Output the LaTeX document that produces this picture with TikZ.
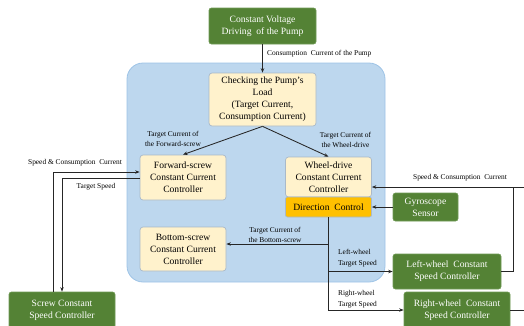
\documentclass[tikz,border=0pt]{standalone}
\usepackage{fontspec}
\setmainfont{Liberation Serif}
\usetikzlibrary{arrows.meta}

\definecolor{grnfill}{HTML}{548235}
\definecolor{grnedge}{HTML}{6F9A55}
\definecolor{creamfill}{HTML}{FFF2CC}
\definecolor{creamedge}{HTML}{A9B9C9}
\definecolor{amberfill}{HTML}{FFC000}
\definecolor{regionfill}{HTML}{BDD7EE}
\definecolor{regionedge}{HTML}{9DC3E6}
\definecolor{wire}{HTML}{262626}

\newcommand{\boxfont}{\fontsize{9.6}{12}\selectfont}
\newcommand{\tagfont}{\fontsize{7.4}{10.5}\selectfont}

\tikzset{
  greenbox/.style={draw=grnedge, fill=grnfill, text=white, rounded corners=2.5pt,
    align=center, inner sep=0pt, font=\boxfont, line width=0.7pt},
  creambox/.style={draw=creamedge, fill=creamfill, text=black, rounded corners=3pt,
    align=center, inner sep=0pt, font=\boxfont, line width=0.7pt},
  amberbox/.style={draw=creamedge, fill=amberfill, text=black, rounded corners=2pt,
    align=center, inner sep=0pt, font=\boxfont, line width=0.7pt},
  tag/.style={font=\tagfont, inner sep=0pt, text=black},
  flow/.style={draw=wire, line width=0.85pt, -{Stealth[length=4.5pt,width=3.5pt]}},
  plain/.style={draw=wire, line width=0.85pt},
}

\begin{document}
\begin{tikzpicture}[x=1pt, y=-1pt]
  \useasboundingbox (0,0) rectangle (524,325);
  \clip (0,0) rectangle (524,325);

  % controller region
  \draw[regionedge, fill=regionfill, line width=0.8pt, rounded corners=16pt]
    (127,63) rectangle (385,282);

  % boxes
  \node[greenbox, minimum width=107pt, minimum height=36pt] (pump) at (262.5,26)
    {Constant Voltage\\Driving\ \ of the Pump};
  \node[creambox, minimum width=107pt, minimum height=53pt] (check) at (262.5,99.5)
    {Checking the Pump’s\\Load\\(Target Current,\\Consumption Current)};
  \node[creambox, minimum width=86pt, minimum height=45pt] (fwd) at (183,177.5)
    {Forward-screw\\Constant Current\\Controller};
  \node[creambox, minimum width=86pt, minimum height=44pt] (bot) at (183,249)
    {Bottom-screw\\Constant Current\\Controller};
  \node[creambox, minimum width=86pt, minimum height=40pt] (wheel) at (328.5,177)
    {Wheel-drive\\Constant Current\\Controller};
  \node[amberbox, minimum width=86pt, minimum height=20pt] (dir) at (328.5,207)
    {Direction\ \ Control};
  \node[greenbox, minimum width=65pt, minimum height=28pt] (gyro) at (425.5,207)
    {Gyroscope\\Sensor};
  \node[greenbox, minimum width=108pt, minimum height=35pt] (lw) at (447,271.5)
    {Left-wheel\ \ Constant\\Speed Controller};
  \node[greenbox, minimum width=106pt, minimum height=36pt] (rw) at (457,310)
    {Right-wheel\ \ Constant\\Speed Controller};
  \node[greenbox, minimum width=106pt, minimum height=36pt] (screw) at (62,310)
    {Screw Constant\\Speed Controller};

  % free ends and corners of the feedback wires
  \coordinate (ret) at (513,187);
  \coordinate (offtop) at (530,187);
  \coordinate (offbot) at (530,310);
  \coordinate (botin) at ([yshift=5pt]bot.east);

  % connectors
  \draw[flow] (pump.south) -- (check.north);
  \draw[flow] (check.south) -- (fwd.north);
  \draw[flow] (check.south) -- (wheel.north);

  \draw[flow] ([xshift=-9pt]screw.north) |- ([yshift=5.5pt]fwd.west);
  \draw[flow] ([yshift=-0.5pt]fwd.west) -| (screw.north);

  \draw[flow] (lw.east) -| (ret) -- (ret -| wheel.east);
  \draw[plain] (ret) -- (offtop);
  \draw[plain] (rw.east) -- (offbot);

  \draw[flow] (gyro.west) -- (dir.east);
  \draw[flow] (dir.south) |- (lw.west);
  \draw[flow] (dir.south) |- (rw.west);
  \draw[flow] (dir.south |- botin) -- (botin);

  % connector labels
  \node[tag, anchor=west] (lpump) at (267,54) {Consumption\ \ Current of the Pump};
  \node[tag, align=center] (lfwd) at (173,139) {Target Current of\\the Forward-screw};
  \node[tag, align=center] (lwhl) at (345.5,140) {Target Current of\\the Wheel-drive};
  \node[tag, align=center] (lbot) at (275,235) {Target Current of\\the Bottom-screw};
  \node[tag, align=left, anchor=west] (llw) at (338,258) {Left-wheel\\Target Speed};
  \node[tag, align=left, anchor=west] (lrw) at (338,299) {Right-wheel\\Target Speed};
  \node[tag] (lscr) at (75,162.5) {Speed \& Consumption\ \ Current};
  \node[tag] (lts) at (96,187) {Target Speed};
  \node[tag] (lret) at (460,178) {Speed \& Consumption\ \ Current};
\end{tikzpicture}
\end{document}
